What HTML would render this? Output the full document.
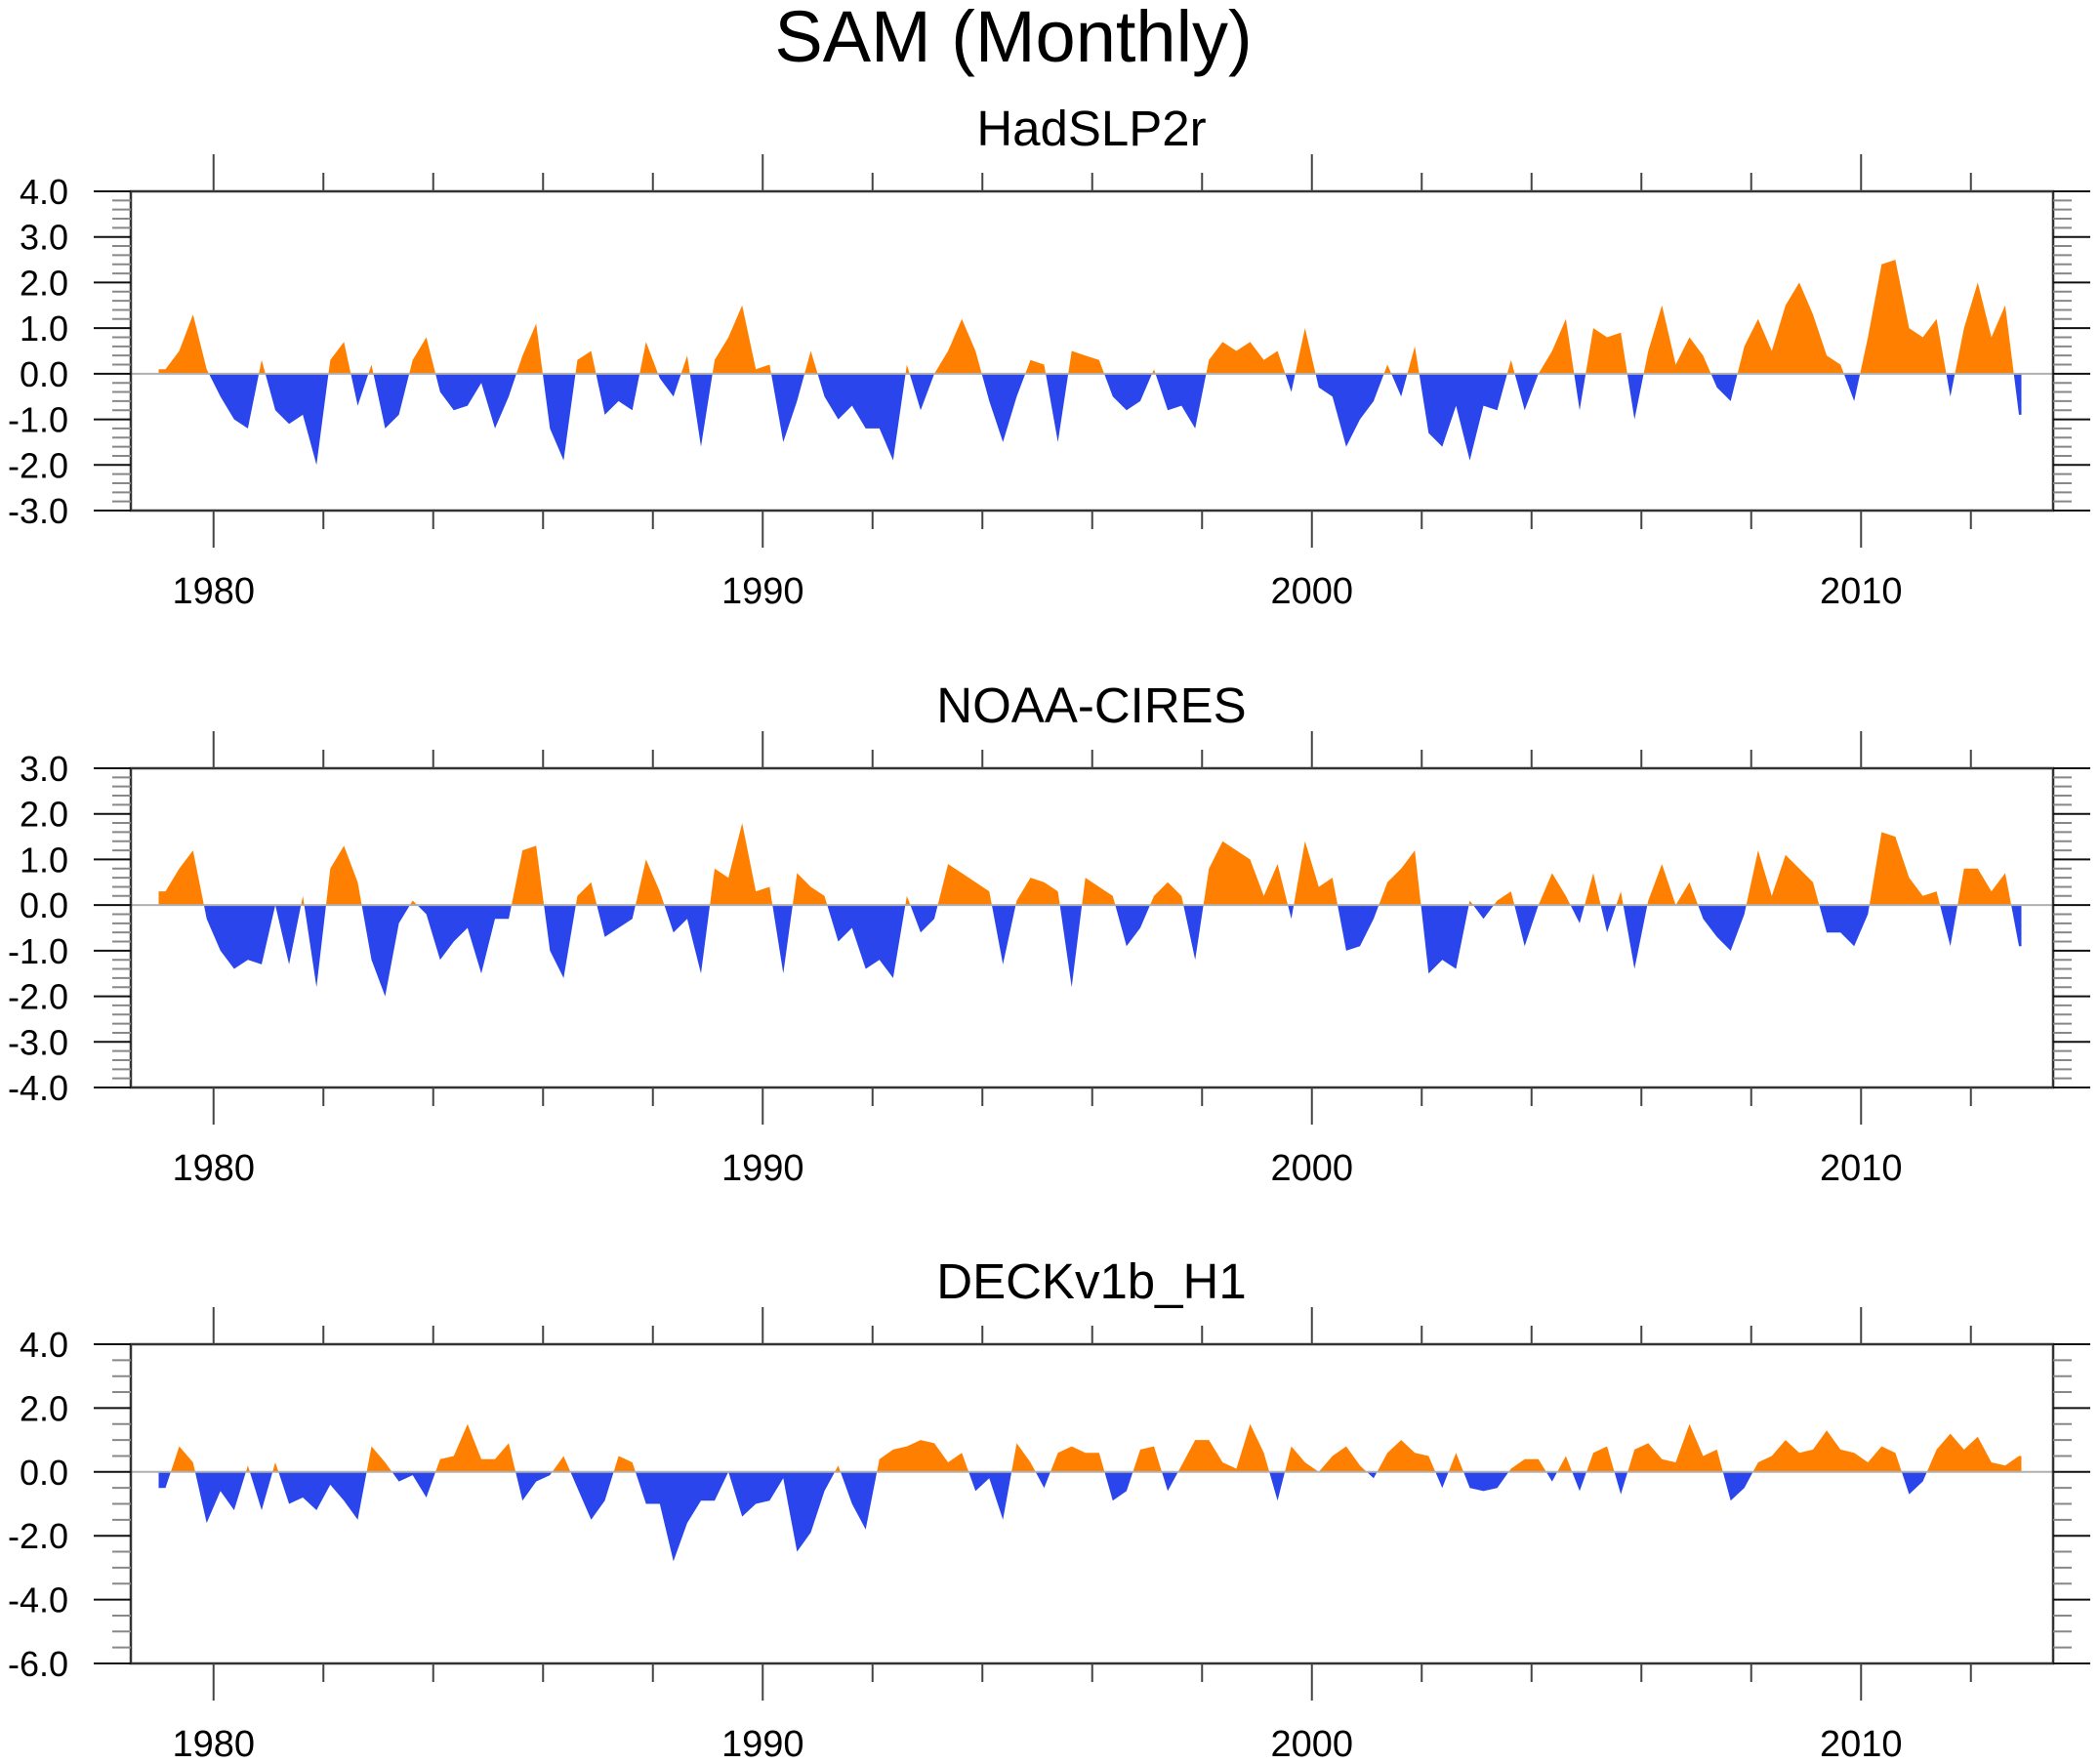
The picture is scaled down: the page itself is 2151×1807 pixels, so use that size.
<!DOCTYPE html>
<html><head><meta charset="utf-8"><title>SAM (Monthly)</title>
<style>html,body{margin:0;padding:0;background:#fff}svg{display:block}text{font-family:"Liberation Sans",Arial,sans-serif;fill:#000}</style>
</head><body>
<svg id="chart" width="2151" height="1807" viewBox="0 0 2151 1807" xmlns="http://www.w3.org/2000/svg">
<text x="1038" y="63" font-size="74" text-anchor="middle">SAM (Monthly)</text>
</svg>
<script>
// Quarterly values, 1979 Q1 .. 2012 Q4
const startYear = 1979;
const hadslp2r = [
0.1,0.5,1.3,0.1, -0.5,-1.0,-1.2,0.3, -0.8,-1.1,-0.9,-2.0, 0.3,0.7,-0.7,0.2, -1.2,-0.9,0.3,0.8,
-0.4,-0.8,-0.7,-0.2, -1.2,-0.5,0.4,1.1, -1.2,-1.9,0.3,0.5, -0.9,-0.6,-0.8,0.7, -0.1,-0.5,0.4,-1.6,
0.3,0.8,1.5,0.1, 0.2,-1.5,-0.6,0.5, -0.5,-1.0,-0.7,-1.2, -1.2,-1.9,0.2,-0.8, 0.0,0.5,1.2,0.5,
-0.6,-1.5,-0.5,0.3, 0.2,-1.5,0.5,0.4, 0.3,-0.5,-0.8,-0.6, 0.1,-0.8,-0.7,-1.2, 0.3,0.7,0.5,0.7,
0.3,0.5,-0.4,1.0, -0.3,-0.5,-1.6,-1.0, -0.6,0.2,-0.5,0.6, -1.3,-1.6,-0.7,-1.9, -0.7,-0.8,0.3,-0.8,
0.0,0.5,1.2,-0.8, 1.0,0.8,0.9,-1.0, 0.5,1.5,0.2,0.8, 0.4,-0.3,-0.6,0.6, 1.2,0.5,1.5,2.0,
1.3,0.4,0.2,-0.6, 0.8,2.4,2.5,1.0, 0.8,1.2,-0.5,1.0, 2.0,0.8,1.5,-0.9];
const noaaCires = [
0.3,0.8,1.2,-0.3, -1.0,-1.4,-1.2,-1.3, 0.0,-1.3,0.2,-1.8, 0.8,1.3,0.5,-1.2, -2.0,-0.4,0.1,-0.2,
-1.2,-0.8,-0.5,-1.5, -0.3,-0.3,1.2,1.3, -1.0,-1.6,0.2,0.5, -0.7,-0.5,-0.3,1.0, 0.3,-0.6,-0.3,-1.5,
0.8,0.6,1.8,0.3, 0.4,-1.5,0.7,0.4, 0.2,-0.8,-0.5,-1.4, -1.2,-1.6,0.2,-0.6, -0.3,0.9,0.7,0.5,
0.3,-1.3,0.1,0.6, 0.5,0.3,-1.8,0.6, 0.4,0.2,-0.9,-0.5, 0.2,0.5,0.2,-1.2, 0.8,1.4,1.2,1.0,
0.2,0.9,-0.3,1.4, 0.4,0.6,-1.0,-0.9, -0.3,0.5,0.8,1.2, -1.5,-1.2,-1.4,0.1, -0.3,0.1,0.3,-0.9,
0.0,0.7,0.2,-0.4, 0.7,-0.6,0.3,-1.4, 0.1,0.9,0.0,0.5, -0.3,-0.7,-1.0,-0.2, 1.2,0.2,1.1,0.8,
0.5,-0.6,-0.6,-0.9, -0.2,1.6,1.5,0.6, 0.2,0.3,-0.9,0.8, 0.8,0.3,0.7,-0.9];
const deckH1 = [
-0.5,0.8,0.3,-1.6, -0.6,-1.2,0.2,-1.2, 0.3,-1.0,-0.8,-1.2, -0.4,-0.9,-1.5,0.8, 0.3,-0.3,-0.1,-0.8,
0.4,0.5,1.5,0.4, 0.4,0.9,-0.9,-0.3, -0.1,0.5,-0.5,-1.5, -0.9,0.5,0.3,-1.0, -1.0,-2.8,-1.6,-0.9,
-0.9,0.0,-1.4,-1.0, -0.9,-0.2,-2.5,-1.9, -0.6,0.2,-1.0,-1.8, 0.4,0.7,0.8,1.0, 0.9,0.3,0.6,-0.6,
-0.2,-1.5,0.9,0.3, -0.5,0.6,0.8,0.6, 0.6,-0.9,-0.6,0.7, 0.8,-0.6,0.2,1.0, 1.0,0.3,0.1,1.5,
0.6,-0.9,0.8,0.3, 0.0,0.5,0.8,0.2, -0.2,0.6,1.0,0.6, 0.5,-0.5,0.6,-0.5, -0.6,-0.5,0.1,0.4,
0.4,-0.3,0.5,-0.6, 0.6,0.8,-0.7,0.7, 0.9,0.4,0.3,1.5, 0.5,0.7,-0.9,-0.5, 0.3,0.5,1.0,0.6,
0.7,1.3,0.7,0.6, 0.3,0.8,0.6,-0.7, -0.3,0.7,1.2,0.7, 1.1,0.3,0.2,0.5];
const panelTitles = ["HadSLP2r", "NOAA-CIRES", "DECKv1b_H1"];
const yTickLabels1 = ["4.0","3.0","2.0","1.0","0.0","-1.0","-2.0","-3.0"];
const yTickLabels2 = ["3.0","2.0","1.0","0.0","-1.0","-2.0","-3.0","-4.0"];
const yTickLabels3 = ["4.0","2.0","0.0","-2.0","-4.0","-6.0"];
const xTickLabels = ["1980","1990","2000","2010"];

const NS = "http://www.w3.org/2000/svg";
const svg = document.getElementById("chart");
function mk(tag, attrs, parent) {
  const e = document.createElementNS(NS, tag);
  for (const k in attrs) e.setAttribute(k, attrs[k]);
  (parent || svg).appendChild(e);
  return e;
}
const L = 134, R = 2103, H = 327;
function xScale(t) { return 218.75 + 56.25 * (t - 1980); }

const panels = [
  {data: hadslp2r, top: 196, ymax: 4, ymin: -3, major: 1, minor: 0.2, labels: yTickLabels1, slug: "hadslp2r"},
  {data: noaaCires, top: 787, ymax: 3, ymin: -4, major: 1, minor: 0.2, labels: yTickLabels2, slug: "noaa-cires"},
  {data: deckH1, top: 1377, ymax: 4, ymin: -6, major: 2, minor: 0.5, labels: yTickLabels3, slug: "deckv1b-h1"}
];

panels.forEach((p, pi) => {
  const g = mk("g", {});
  
  
  const T = p.top, B = p.top + H;
  const yScale = v => T + (p.ymax - v) / (p.ymax - p.ymin) * H;
  const y0 = yScale(0);

  const title = mk("text", {x: 1118, y: T - 47, "font-size": 51, "text-anchor": "middle"}, g);
  title.textContent = panelTitles[pi];
  
  

  let pts = [];
  const n = p.data.length;
  pts.push([xScale(startYear), yScale(p.data[0])]);
  for (let i = 0; i < n; i++) {
    const t = startYear + (i + 0.5) / 4;
    pts.push([xScale(t), yScale(p.data[i])]);
  }
  pts.push([xScale(startYear + n / 4 - 0.08), yScale(p.data[n - 1])]);
  let d = "M" + pts[0][0].toFixed(1) + "," + y0.toFixed(1);
  pts.forEach(q => d += "L" + q[0].toFixed(1) + "," + q[1].toFixed(1));
  d += "L" + pts[pts.length - 1][0].toFixed(1) + "," + y0.toFixed(1) + "Z";
  const cpU = mk("clipPath", {id: "up" + pi}, g);
  mk("rect", {x: L, y: T, width: R - L, height: y0 - T}, cpU);
  const cpD = mk("clipPath", {id: "dn" + pi}, g);
  mk("rect", {x: L, y: y0, width: R - L, height: B - y0}, cpD);
  const pos = mk("path", {d: d, fill: "#ff8000", "clip-path": "url(#up" + pi + ")"}, g);
  
  
  const neg = mk("path", {d: d, fill: "#2a45ec", "clip-path": "url(#dn" + pi + ")"}, g);
  
  
  const zl = mk("line", {x1: L, x2: R, y1: y0, y2: y0, stroke: "#b0b0b0", "stroke-width": 2}, g);
  
  

  const fr = mk("rect", {x: L, y: T, width: R - L, height: H, fill: "none", stroke: "#333", "stroke-width": 2.5}, g);
  
  

  const nMinor = Math.round((p.ymax - p.ymin) / p.minor);
  for (let k = 0; k <= nMinor; k++) {
    const v = p.ymax - k * p.minor;
    const y = yScale(v);
    const isMajor = Math.abs(v / p.major - Math.round(v / p.major)) < 1e-6;
    const len = isMajor ? 38 : 19;
    mk("line", {x1: L - len, x2: L, y1: y, y2: y, stroke: isMajor ? "#111" : "#888", "stroke-width": 2}, g);
    mk("line", {x1: R, x2: R + len, y1: y, y2: y, stroke: isMajor ? "#111" : "#888", "stroke-width": 2}, g);
  }
  p.labels.forEach(lab => {
    const v = parseFloat(lab);
    const t = mk("text", {x: 70, y: yScale(v) + 13, "font-size": 36, "text-anchor": "end"}, g);
    t.textContent = lab;
    
    
  });

  for (let yr = 1980; yr <= 2012; yr += 2) {
    const x = xScale(yr);
    const isMajor = yr % 10 === 0;
    const len = isMajor ? 38 : 19;
    mk("line", {x1: x, x2: x, y1: T - len, y2: T, stroke: "#444", "stroke-width": 2}, g);
    mk("line", {x1: x, x2: x, y1: B, y2: B + len, stroke: "#444", "stroke-width": 2}, g);
  }
  xTickLabels.forEach(lab => {
    const t = mk("text", {x: xScale(parseFloat(lab)), y: B + 95, "font-size": 38, "text-anchor": "middle"}, g);
    t.textContent = lab;
    
    
  });
});
</script>
</body></html>
